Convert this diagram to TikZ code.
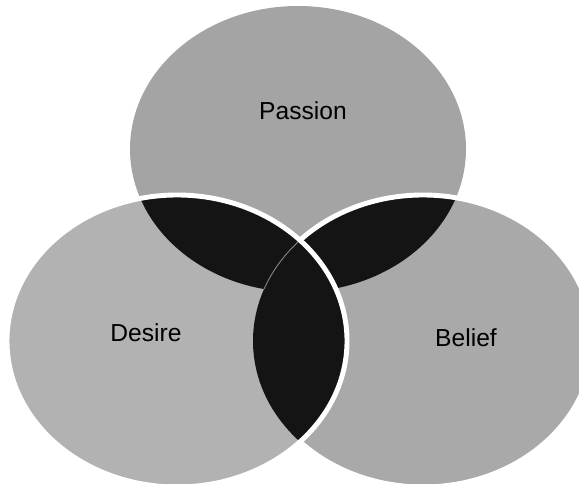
\documentclass[tikz,border=0pt]{standalone}
\usepackage{fontspec}
\setmainfont{Liberation Sans}
\definecolor{pasfill}{HTML}{A4A4A4}
\definecolor{desfill}{HTML}{B2B2B2}
\definecolor{belfill}{HTML}{A9A9A9}
\definecolor{lensfill}{HTML}{141414}
\newcommand{\passionE}{(7.45,8.35) ellipse [x radius=4.2, y radius=3.575]}
\newcommand{\desireE}{(4.425,3.55) ellipse [x radius=4.25, y radius=3.65]}
\newcommand{\beliefE}{(10.575,3.55) ellipse [x radius=4.25, y radius=3.65]}

\begin{document}
\begin{tikzpicture}[
  font=\fontsize{17.5}{20}\selectfont,
  rim/.style={draw=white, line width=3.5pt},
  seam/.style={draw=black!45, line width=0.6pt},
  lab/.style={text=black, inner sep=1pt}]
\useasboundingbox (0,0) rectangle (14.475,12.075);
\clip (0,0) rectangle (14.475,12.075);
% the three sets
\fill[pasfill] \passionE;
\fill[belfill] \beliefE;
\begin{scope}
  \clip \passionE;
  \fill[lensfill] \beliefE;
\end{scope}
\draw[rim] \beliefE;
\fill[desfill] \desireE;
\begin{scope}
  \clip \desireE;
  \fill[lensfill] \passionE;
  \fill[lensfill] \beliefE;
\end{scope}
\begin{scope}
  \clip \desireE;
  \clip \passionE;
  \draw[seam] \beliefE;
\end{scope}
\draw[rim] \desireE;
% labels
\node[lab] (pas) at (7.575,9.3)  {Passion};
\node[lab] (des) at (3.65,3.75)  {Desire};
\node[lab] (bel) at (11.65,3.625) {Belief};
\end{tikzpicture}
\end{document}
